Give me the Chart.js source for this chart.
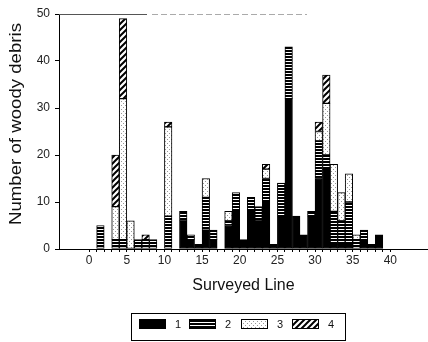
<!DOCTYPE html>
<html>
<head>
<meta charset="utf-8">
<script src="https://cdn.jsdelivr.net/npm/chart.js@4.4.1/dist/chart.umd.min.js"></script>
<style>
	body { margin: 0; background: #fff; }
	#wrap { width: 428px; height: 342px; position: relative; }
</style>
</head>
<body>
<div id="wrap"><canvas id="debrisChart"></canvas></div>
<script>
// surveyed lines and counts per debris class
const LINES = [
	1, 2, 3, 4, 5, 6, 7, 8, 9, 10, 11, 12, 13, 14, 15, 16, 17, 18, 19,
	20, 21, 22, 23, 24, 25, 26, 27, 28, 29, 30, 31, 32, 33, 34, 35, 36, 37, 38,
];
const CLASS_1 = [
	0, 0, 0, 0, 0, 0, 0, 0, 0, 0, 0, 6, 2, 1, 4, 2, 0, 5, 8,
	2, 8, 6, 10, 1, 7, 32, 7, 3, 7, 15, 17, 1, 1, 1, 0, 2, 1, 3,
];
const CLASS_2 = [
	5, 0, 2, 2, 0, 2, 2, 2, 0, 7, 0, 2, 1, 0, 7, 2, 0, 1, 4,
	0, 3, 3, 5, 0, 7, 11, 0, 0, 1, 8, 3, 7, 5, 9, 2, 2, 0, 0,
];
const CLASS_3 = [
	0, 0, 7, 30, 6, 0, 0, 0, 0, 19, 0, 0, 0, 0, 4, 0, 0, 2, 0,
	0, 0, 0, 2, 0, 0, 0, 0, 0, 0, 2, 11, 10, 6, 6, 1, 0, 0, 0,
];
const CLASS_4 = [
	0, 0, 11, 17, 0, 0, 1, 0, 0, 1, 0, 0, 0, 0, 0, 0, 0, 0, 0,
	0, 0, 0, 1, 0, 0, 0, 0, 0, 0, 2, 6, 0, 0, 0, 0, 0, 0, 0,
];
const CLASS_LABELS = ['1', '2', '3', '4'];
const X_TICKS = Array.from({ length: 41 }, (_, i) => i);
const Y_TITLE = 'Number of woody debris';
const X_TITLE = 'Surveyed Line';

const FONT = '"Liberation Sans", Arial, sans-serif';
const X_MIN = -4;
const X_MAX = 45;

function makePattern(kind) {
	const c = document.createElement('canvas');
	const ctx = c.getContext('2d');
	if (kind === 'stripes') {
		c.width = 4;
		c.height = 3;
		ctx.fillStyle = '#000';
		ctx.fillRect(0, 0, 4, 3);
		ctx.fillStyle = '#fff';
		ctx.fillRect(0, 1, 4, 1);
	} else if (kind === 'dots') {
		c.width = 4;
		c.height = 4;
		ctx.fillStyle = '#fff';
		ctx.fillRect(0, 0, 4, 4);
		ctx.fillStyle = '#999';
		ctx.fillRect(1, 1, 1, 1);
		ctx.fillRect(3, 3, 1, 1);
	} else {
		c.width = 6;
		c.height = 6;
		ctx.fillStyle = '#fff';
		ctx.fillRect(0, 0, 6, 6);
		ctx.strokeStyle = '#000';
		ctx.lineWidth = 2;
		ctx.beginPath();
		ctx.moveTo(-3, 3);
		ctx.lineTo(3, -3);
		ctx.moveTo(0, 6);
		ctx.lineTo(6, 0);
		ctx.moveTo(3, 9);
		ctx.lineTo(9, 3);
		ctx.stroke();
	}
	return ctx.createPattern(c, 'repeat');
}

const FILLS = ['#000', makePattern('stripes'), makePattern('dots'), makePattern('hatch')];

const datasets = [CLASS_1, CLASS_2, CLASS_3, CLASS_4].map((values, i) => ({
	label: CLASS_LABELS[i],
	data: LINES.map((line, j) => ({ x: line, y: values[j] })),
	xAxisID: 'xBars',
	backgroundColor: FILLS[i],
	borderColor: '#000',
	borderWidth: 1,
	borderSkipped: false,
	barPercentage: 1,
	categoryPercentage: 1,
}));

const framePlugin = {
	id: 'frame',
	afterDraw(chart) {
		const { ctx, chartArea } = chart;
		ctx.save();

		// broken top border as in the scan
		ctx.strokeStyle = '#555';
		ctx.lineWidth = 1;
		ctx.beginPath();
		ctx.moveTo(chartArea.left, chartArea.top + 0.5);
		ctx.lineTo(147, chartArea.top + 0.5);
		ctx.stroke();
		ctx.strokeStyle = '#aaa';
		ctx.setLineDash([6, 3]);
		ctx.beginPath();
		ctx.moveTo(152, chartArea.top + 0.5);
		ctx.lineTo(307, chartArea.top + 0.5);
		ctx.stroke();
		ctx.setLineDash([]);

		// y axis title, stretched along its length like the original
		ctx.font = '16px ' + FONT;
		ctx.fillStyle = '#111';
		ctx.textAlign = 'center';
		ctx.textBaseline = 'middle';
		const stretch = 202 / ctx.measureText(Y_TITLE).width;
		ctx.translate(17, 124);
		ctx.rotate(-Math.PI / 2);
		ctx.scale(stretch, 1);
		ctx.fillText(Y_TITLE, 0, 0);
		ctx.restore();

		// boxed legend
		ctx.save();
		ctx.strokeStyle = '#000';
		ctx.lineWidth = 1;
		ctx.strokeRect(131.5, 313.5, 214, 27);
		ctx.font = '11px ' + FONT;
		ctx.textAlign = 'left';
		ctx.textBaseline = 'middle';
		const swatchX = [139, 189, 241, 292];
		chart.data.datasets.forEach((ds, i) => {
			const x = swatchX[i];
			ctx.fillStyle = ds.backgroundColor;
			ctx.fillRect(x, 319, 27, 10);
			ctx.strokeRect(x + 0.5, 319.5, 26, 9);
			ctx.fillStyle = '#111';
			ctx.fillText(ds.label, x + 36, 324.5);
		});
		ctx.restore();
	},
};

new Chart(document.getElementById('debrisChart'), {
	type: 'bar',
	data: { datasets },
	options: {
		responsive: true,
		maintainAspectRatio: false,
		animation: false,
		layout: { padding: { top: 14, right: 0, bottom: 0, left: 0 } },
		scales: {
			// hidden axis for the bars: each line fills the interval [line, line + 1]
			xBars: {
				type: 'linear',
				position: 'bottom',
				stacked: true,
				display: false,
				offset: false,
				grid: { offset: false },
				min: X_MIN - 0.5,
				max: X_MAX - 0.5,
				afterBuildTicks: scale => {
					scale.ticks = LINES.map(v => ({ value: v }));
				},
			},
			x: {
				type: 'linear',
				offset: false,
				min: X_MIN,
				max: X_MAX,
				afterBuildTicks: scale => {
					scale.ticks = X_TICKS.map(v => ({ value: v }));
				},
				afterFit: scale => {
					scale.height = 93;
				},
				ticks: {
					autoSkip: false,
					maxRotation: 0,
					padding: 1,
					color: '#222',
					font: { family: FONT, size: 12 },
					callback: v => (v % 5 === 0 ? v : ''),
				},
				grid: {
					offset: false,
					drawOnChartArea: false,
					drawTicks: true,
					tickLength: 3,
					color: '#000',
				},
				border: { display: true, color: '#000', width: 1 },
				title: {
					display: true,
					text: X_TITLE,
					color: '#111',
					font: { family: FONT, size: 16 },
					padding: { top: 0, bottom: 47 },
				},
			},
			y: {
				stacked: true,
				min: 0,
				max: 50,
				afterFit: scale => {
					scale.width = 59;
				},
				ticks: {
					stepSize: 10,
					padding: 5,
					color: '#222',
					font: { family: FONT, size: 12 },
				},
				grid: {
					drawOnChartArea: false,
					drawTicks: true,
					tickLength: 4,
					color: '#000',
				},
				border: { display: true, color: '#000', width: 1 },
			},
		},
		plugins: {
			legend: { display: false },
			tooltip: { enabled: false },
		},
	},
	plugins: [framePlugin],
});
</script>
</body>
</html>
